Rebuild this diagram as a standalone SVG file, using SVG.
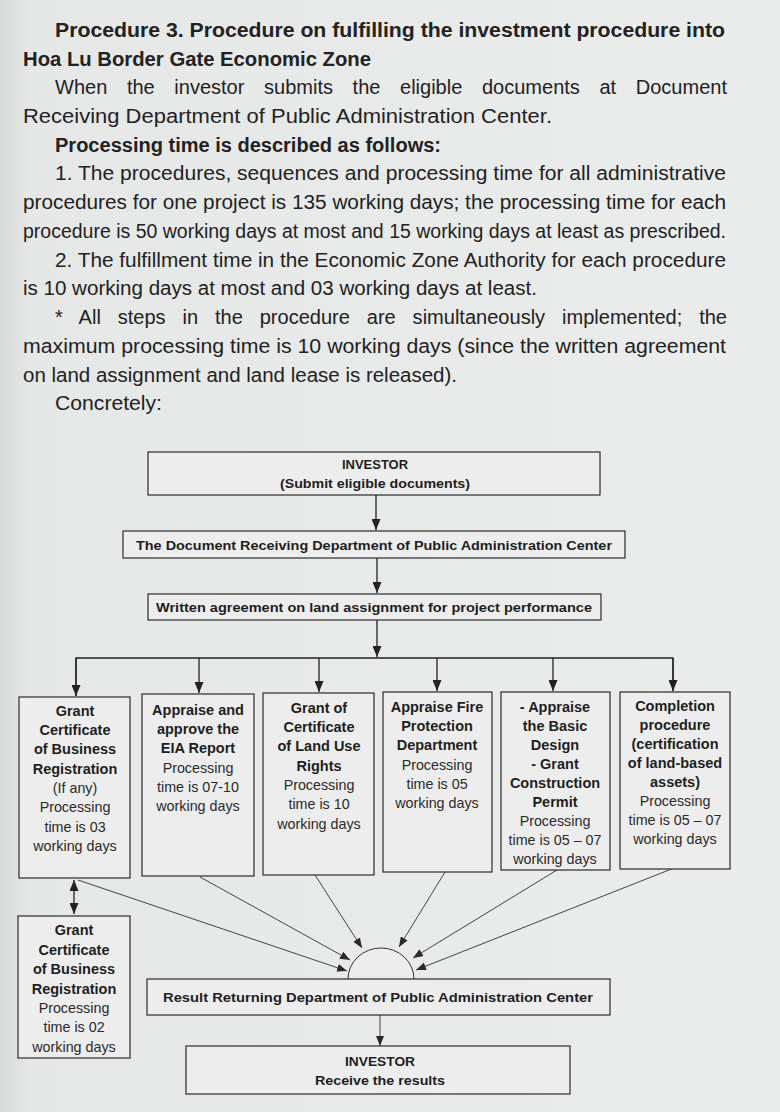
<svg xmlns="http://www.w3.org/2000/svg" width="780" height="1112" viewBox="0 0 780 1112">
<defs>
<linearGradient id="bg" x1="0" y1="0" x2="1" y2="0">
<stop offset="0" stop-color="#d9dada"/>
<stop offset="0.04" stop-color="#e6e7e7"/>
<stop offset="1" stop-color="#ebecec"/>
</linearGradient>
<marker id="ah" viewBox="0 0 11 9" refX="11" refY="4.5" markerWidth="11" markerHeight="9" markerUnits="userSpaceOnUse" orient="auto-start-reverse">
<path d="M0,0 L11,4.5 L0,9 z" fill="#222"/>
</marker>
<marker id="ah2" viewBox="0 0 10 8" refX="10" refY="4" markerWidth="10" markerHeight="8" markerUnits="userSpaceOnUse" orient="auto">
<path d="M0,0 L10,4 L0,8 z" fill="#2a2a2a"/>
</marker>
<style>
.body{font-family:"Liberation Sans",Arial,sans-serif;font-size:20px;fill:#222}
.b{font-weight:bold}
.box{fill:#ededed;stroke:#2a2a2a;stroke-width:1.2}
.bt{font-family:"Liberation Sans",Arial,sans-serif;font-size:13px;font-weight:bold;fill:#1e1e1e;text-anchor:middle}
.nt{font-family:"Liberation Sans",Arial,sans-serif;font-size:14.3px;fill:#2a2a2a;text-anchor:middle}
.nb{font-family:"Liberation Sans",Arial,sans-serif;font-size:14.5px;font-weight:bold;fill:#1e1e1e;text-anchor:middle}
.ln{fill:none;stroke:#222;stroke-width:1.3}
.ln2{fill:none;stroke:#444;stroke-width:1}
</style>
</defs>
<rect x="0" y="0" width="780" height="1112" fill="url(#bg)"/>

<g id="intro-text" class="body">
<text x="55" y="37" class="b" textLength="670" lengthAdjust="spacingAndGlyphs">Procedure 3. Procedure on fulfilling the investment procedure into</text>
<text x="23" y="65.5" class="b" textLength="348" lengthAdjust="spacingAndGlyphs">Hoa Lu Border Gate Economic Zone</text>
<text x="55" y="94" word-spacing="14" textLength="672" lengthAdjust="spacingAndGlyphs">When the investor submits the eligible documents at Document</text>
<text x="23" y="123" textLength="529" lengthAdjust="spacingAndGlyphs">Receiving Department of Public Administration Center.</text>
<text x="55" y="151.5" class="b" textLength="386" lengthAdjust="spacingAndGlyphs">Processing time is described as follows:</text>
<text x="55" y="180" textLength="671" lengthAdjust="spacingAndGlyphs">1. The procedures, sequences and processing time for all administrative</text>
<text x="23" y="209" textLength="703" lengthAdjust="spacingAndGlyphs">procedures for one project is 135 working days; the processing time for each</text>
<text x="23" y="238" textLength="703" lengthAdjust="spacingAndGlyphs">procedure is 50 working days at most and 15 working days at least as prescribed.</text>
<text x="55" y="266.5" textLength="671" lengthAdjust="spacingAndGlyphs">2. The fulfillment time in the Economic Zone Authority for each procedure</text>
<text x="23" y="295" textLength="514" lengthAdjust="spacingAndGlyphs">is 10 working days at most and 03 working days at least.</text>
<text x="55" y="324" word-spacing="11.3" textLength="672" lengthAdjust="spacingAndGlyphs">* All steps in the procedure are simultaneously implemented; the</text>
<text x="23" y="353" textLength="703" lengthAdjust="spacingAndGlyphs">maximum processing time is 10 working days (since the written agreement</text>
<text x="23" y="381.5" textLength="434" lengthAdjust="spacingAndGlyphs">on land assignment and land lease is released).</text>
<text x="55" y="410" textLength="107" lengthAdjust="spacingAndGlyphs">Concretely:</text>
</g>

<g id="connectors">
<line class="ln" x1="376" y1="495" x2="376" y2="530" marker-end="url(#ah)"/>
<line class="ln" x1="377" y1="558" x2="377" y2="593" marker-end="url(#ah)"/>
<line class="ln" x1="377" y1="620" x2="377" y2="657" marker-end="url(#ah)"/>
<polyline class="ln" points="76,696 76,658 673,658 673,691"/>
<line class="ln" x1="76" y1="658" x2="76" y2="696" marker-end="url(#ah)"/>
<line class="ln" x1="199" y1="658" x2="199" y2="693" marker-end="url(#ah)"/>
<line class="ln" x1="319" y1="658" x2="319" y2="692" marker-end="url(#ah)"/>
<line class="ln" x1="437" y1="658" x2="437" y2="691" marker-end="url(#ah)"/>
<line class="ln" x1="553" y1="658" x2="553" y2="691" marker-end="url(#ah)"/>
<line class="ln" x1="673" y1="658" x2="673" y2="691" marker-end="url(#ah)"/>
<line class="ln" x1="74" y1="880" x2="74" y2="914" marker-start="url(#ah)" marker-end="url(#ah)"/>
<line class="ln2" x1="78" y1="880" x2="347" y2="971" marker-end="url(#ah2)"/>
<line class="ln2" x1="200" y1="877" x2="350" y2="960" marker-end="url(#ah2)"/>
<line class="ln2" x1="315" y1="875" x2="362" y2="948" marker-end="url(#ah2)"/>
<line class="ln2" x1="445" y1="872" x2="399" y2="947" marker-end="url(#ah2)"/>
<line class="ln2" x1="557" y1="870" x2="413" y2="958" marker-end="url(#ah2)"/>
<line class="ln2" x1="674" y1="868" x2="416" y2="970" marker-end="url(#ah2)"/>
<line class="ln2" x1="380" y1="1015" x2="380" y2="1046" marker-end="url(#ah2)"/>
</g>

<g id="investor-submit">
<rect class="box" x="148" y="452" width="452" height="43"/>
<text class="bt" x="375" y="469">INVESTOR</text>
<text class="bt" x="375" y="488" textLength="190" lengthAdjust="spacingAndGlyphs">(Submit eligible documents)</text>
</g>

<g id="document-receiving">
<rect class="box" x="123" y="531" width="502" height="27"/>
<text class="bt" x="374" y="550" textLength="476" lengthAdjust="spacingAndGlyphs">The Document Receiving Department of Public Administration Center</text>
</g>

<g id="written-agreement">
<rect class="box" x="148" y="594" width="453" height="26"/>
<text class="bt" x="374" y="612" textLength="436" lengthAdjust="spacingAndGlyphs">Written agreement on land assignment for project performance</text>
</g>

<g id="business-registration">
<rect class="box" x="19" y="697" width="111" height="181"/>
<text class="nb" x="75" y="716">Grant</text>
<text class="nb" x="75" y="735">Certificate</text>
<text class="nb" x="75" y="754">of Business</text>
<text class="nb" x="75" y="773.5">Registration</text>
<text class="nt" x="75" y="793">(If any)</text>
<text class="nt" x="75" y="812">Processing</text>
<text class="nt" x="75" y="831.5">time is 03</text>
<text class="nt" x="75" y="851">working days</text>
</g>

<g id="eia-report">
<rect class="box" x="142" y="694" width="112" height="182"/>
<text class="nb" x="198" y="715">Appraise and</text>
<text class="nb" x="198" y="734">approve the</text>
<text class="nb" x="198" y="753">EIA Report</text>
<text class="nt" x="198" y="772.5">Processing</text>
<text class="nt" x="198" y="791.5">time is 07-10</text>
<text class="nt" x="198" y="811">working days</text>
</g>

<g id="land-use-rights">
<rect class="box" x="263" y="693" width="111" height="182"/>
<text class="nb" x="319" y="713">Grant of</text>
<text class="nb" x="319" y="732">Certificate</text>
<text class="nb" x="319" y="751">of Land Use</text>
<text class="nb" x="319" y="770.5">Rights</text>
<text class="nt" x="319" y="790">Processing</text>
<text class="nt" x="319" y="809">time is 10</text>
<text class="nt" x="319" y="828.5">working days</text>
</g>

<g id="fire-protection">
<rect class="box" x="383" y="692" width="109" height="180"/>
<text class="nb" x="437" y="712">Appraise Fire</text>
<text class="nb" x="437" y="731">Protection</text>
<text class="nb" x="437" y="750">Department</text>
<text class="nt" x="437" y="769.5">Processing</text>
<text class="nt" x="437" y="788.5">time is 05</text>
<text class="nt" x="437" y="808">working days</text>
</g>

<g id="basic-design">
<rect class="box" x="501" y="692" width="109" height="178"/>
<text class="nb" x="555" y="711.5">- Appraise</text>
<text class="nb" x="555" y="730.5">the Basic</text>
<text class="nb" x="555" y="749.5">Design</text>
<text class="nb" x="555" y="768.5">- Grant</text>
<text class="nb" x="555" y="787.5">Construction</text>
<text class="nb" x="555" y="806.5">Permit</text>
<text class="nt" x="555" y="825.5">Processing</text>
<text class="nt" x="555" y="844.5">time is 05 – 07</text>
<text class="nt" x="555" y="863.5">working days</text>
</g>

<g id="completion-procedure">
<rect class="box" x="620" y="692" width="110" height="177"/>
<text class="nb" x="675" y="711">Completion</text>
<text class="nb" x="675" y="730">procedure</text>
<text class="nb" x="675" y="749">(certification</text>
<text class="nb" x="675" y="768">of land-based</text>
<text class="nb" x="675" y="787">assets)</text>
<text class="nt" x="675" y="806">Processing</text>
<text class="nt" x="675" y="825">time is 05 – 07</text>
<text class="nt" x="675" y="844">working days</text>
</g>

<g id="business-registration-2">
<rect class="box" x="18" y="916" width="112" height="142"/>
<text class="nb" x="74" y="935">Grant</text>
<text class="nb" x="74" y="954.5">Certificate</text>
<text class="nb" x="74" y="974">of Business</text>
<text class="nb" x="74" y="993.5">Registration</text>
<text class="nt" x="74" y="1013">Processing</text>
<text class="nt" x="74" y="1032">time is 02</text>
<text class="nt" x="74" y="1051.5">working days</text>
</g>

<g id="result-returning">
<path d="M348,979 A33,31 0 0 1 414,979" fill="#ededed" stroke="#333" stroke-width="1"/>
<rect class="box" x="147" y="979" width="463" height="36" stroke-width="1"/>
<text class="bt" x="378" y="1002" textLength="430" lengthAdjust="spacingAndGlyphs">Result Returning Department of Public Administration Center</text>
</g>

<g id="investor-receive">
<rect class="box" x="186" y="1046" width="384" height="48" stroke-width="1"/>
<text class="bt" x="380" y="1066" textLength="70" lengthAdjust="spacingAndGlyphs">INVESTOR</text>
<text class="bt" x="380" y="1085" textLength="130" lengthAdjust="spacingAndGlyphs">Receive the results</text>
</g>
</svg>
